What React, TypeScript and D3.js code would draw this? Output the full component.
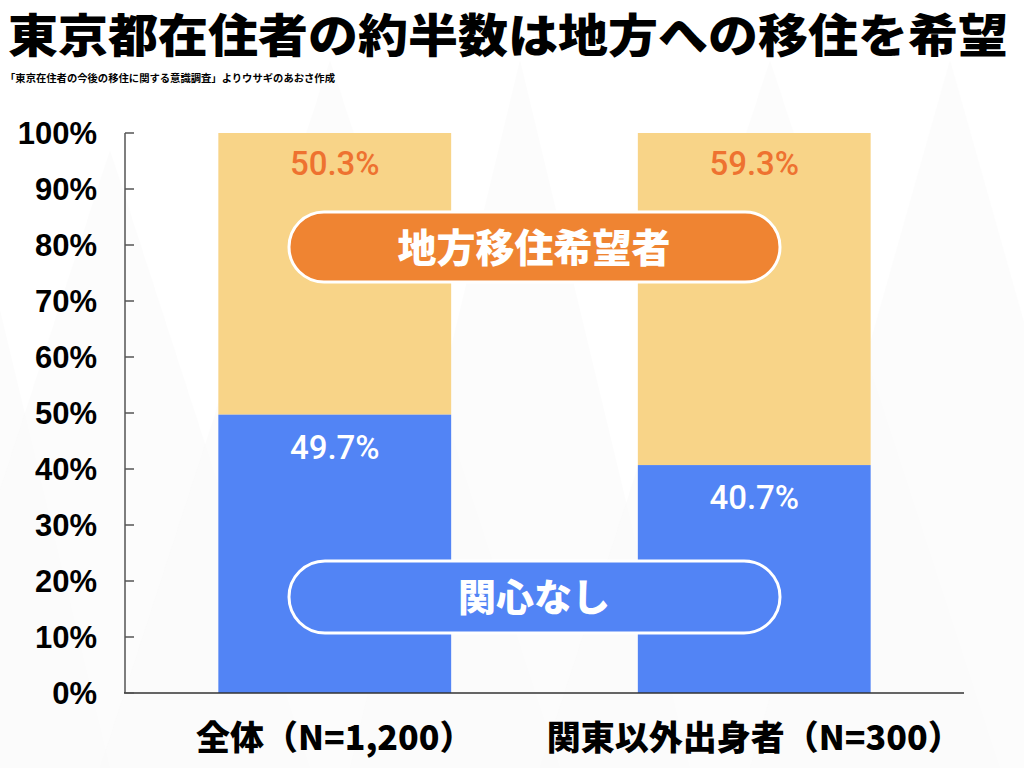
import React from "react";
import * as d3 from "d3";

const categories = ["全体（N=1,200）", "関東以外出身者（N=300）"];
const noInterest = [49.7, 40.7];
const wantMove = [50.3, 59.3];
const yTicks = [0, 10, 20, 30, 40, 50, 60, 70, 80, 90, 100];
const title = "東京都在住者の約半数は地方への移住を希望";
const subtitle = "「東京在住者の今後の移住に関する意識調査」よりウサギのあおさ作成";
const pillTop = "地方移住希望者";
const pillBottom = "関心なし";
const mountainPeaks = [
  [-60, 60, 170], [110, 150, 200], [330, 60, 230], [520, 60, 170], [770, 60, 230], [950, 60, 200],
];

const W = 1024, H = 768;
const JP = "'Noto Sans CJK JP', 'Noto Sans', sans-serif";

export default function App() {
  const x = d3.scaleBand<string>().domain(categories).range([125, 964]).paddingInner(0.445).paddingOuter(0.2225);
  const y = d3.scaleLinear().domain([0, 100]).range([693, 133]);
  const bw = x.bandwidth();
  return (
    <svg width={W} height={H} style={{ position: "absolute", left: 0, top: 0, background: "#fff" }}>
      <rect width={W} height={H} fill="#fff" />
      {mountainPeaks.map(([px, py, hw], i) => (
        <polygon key={i} points={`${px - hw},${H} ${px},${py} ${px + hw},${H}`} fill="#fafafa" opacity={0.5} />
      ))}
      <text x={8} y={52} fontFamily={JP} fontWeight={900} fontSize={46} fill="#000" textLength={1000} lengthAdjust="spacingAndGlyphs">{title}</text>
      <text x={5} y={82} fontFamily={JP} fontWeight={700} fontSize={10} fill="#000" textLength={330} lengthAdjust="spacingAndGlyphs">{subtitle}</text>

      {categories.map((c, i) => (
        <g key={c}>
          <rect x={x(c)} y={y(100)} width={bw} height={y(noInterest[i]) - y(100)} fill="#F8D488" />
          <rect x={x(c)} y={y(noInterest[i])} width={bw} height={y(0) - y(noInterest[i])} fill="#5284F5" />
          <text x={x(c)! + bw / 2} y={y(100) + 42} textAnchor="middle" fontFamily="Roboto, sans-serif" fontWeight={500} fontSize={33} fill="#EE7230">{wantMove[i].toFixed(1)}%</text>
          <text x={x(c)! + bw / 2} y={y(noInterest[i]) + 44} textAnchor="middle" fontFamily="Roboto, sans-serif" fontWeight={500} fontSize={33} fill="#fff">{noInterest[i].toFixed(1)}%</text>
          <text x={x(c)! + bw / 2} y={750} textAnchor="middle" fontFamily={JP} fontWeight={900} fontSize={34} fill="#000">{c}</text>
        </g>
      ))}

      <line x1={125} x2={125} y1={y(100)} y2={y(0)} stroke="#555" strokeWidth={1.5} />
      <line x1={124} x2={964} y1={y(0)} y2={y(0)} stroke="#333" strokeWidth={1.5} />
      {yTicks.map((t) => (
        <g key={t}>
          <line x1={125} x2={134} y1={y(t)} y2={y(t)} stroke="#555" strokeWidth={1.5} />
          <text x={97} y={y(t) + 11} textAnchor="end" fontFamily="'Liberation Sans', Arial, sans-serif" fontWeight={700} fontSize={31} fill="#000">{t}%</text>
        </g>
      ))}

      <rect x={289} y={212} width={491} height={70} rx={35} fill="#EF8432" stroke="#fff" strokeWidth={3} />
      <text x={534} y={262} textAnchor="middle" fontFamily={JP} fontWeight={900} fontSize={39} fill="#fff">{pillTop}</text>
      <rect x={289} y={561} width={491} height={72} rx={36} fill="#5284F5" stroke="#fff" strokeWidth={3} />
      <text x={534} y={611} textAnchor="middle" fontFamily={JP} fontWeight={900} fontSize={38} fill="#fff">{pillBottom}</text>
    </svg>
  );
}
